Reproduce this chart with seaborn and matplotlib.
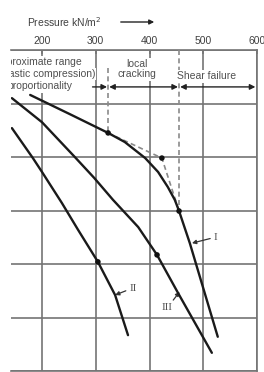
import matplotlib
matplotlib.use("Agg")
import matplotlib.pyplot as plt
import seaborn as sns

# pressure (kN/m2) against settlement (grid units, measured downwards)
p_I = [178, 252, 323, 354, 392, 416, 434, 447, 455, 475, 527]
s_I = [0.84, 1.20, 1.55, 1.72, 2.02, 2.28, 2.56, 2.80, 3.01, 3.61, 5.36]
p_II = [144, 183, 200, 237, 267, 304, 336, 360]
s_II = [1.46, 2.02, 2.28, 2.86, 3.36, 3.96, 4.58, 5.33]
p_III = [144, 200, 261, 297, 332, 379, 414, 453, 516]
s_III = [0.90, 1.35, 2.00, 2.39, 2.80, 3.31, 3.83, 4.54, 5.66]

# marked points and the dashed construction line
dot_p = [323, 455, 304, 414, 423]
dot_s = [1.55, 3.01, 3.96, 3.83, 2.02]
dash_p = [323, 423, 455]
dash_s = [1.55, 2.02, 3.01]

# zone limits (pressure)
lim_elastic = 323
lim_crack = 455

xticks = [200, 300, 400, 500, 600]

sns.set_style("white")
plt.rcParams["font.family"] = ["Liberation Sans", "DejaVu Sans"]

grid_c = "#747474"
txt_c = "#505050"

fig = plt.figure(figsize=(2.64, 3.72), dpi=100)
ax = fig.add_axes([11 / 264, 1 / 372, 246 / 264, 321 / 372])
ax.set_xlim(142.3, 600)
ax.set_ylim(6, 0)

ax.set_xticks(xticks)
ax.set_yticks(range(0, 7))
ax.xaxis.tick_top()
ax.tick_params(axis="x", top=True, direction="in", length=3, width=1.1,
               color=grid_c, labelsize=7.5, labelcolor="#404040", pad=3)
ax.tick_params(axis="y", left=False, labelleft=False)
ax.grid(True, color=grid_c, linewidth=1.2)
ax.set_axisbelow(True)
for side in ["top", "right", "bottom"]:
    ax.spines[side].set_color(grid_c)
    ax.spines[side].set_linewidth(1.2)
ax.spines["left"].set_visible(False)

# curves
for p, s in [(p_I, s_I), (p_II, s_II), (p_III, s_III)]:
    sns.lineplot(x=p, y=s, sort=False, color="#1a1a1a", linewidth=1.7, ax=ax, zorder=4)

sns.lineplot(x=dash_p, y=dash_s, sort=False, color="#8a8a8a", linewidth=1.2,
             linestyle=(0, (3, 2)), ax=ax, zorder=3)
ax.plot([lim_elastic, lim_elastic], [0.34, 1.55], color="#8a8a8a", lw=1.2, ls=(0, (3, 2)), zorder=3)
ax.plot([lim_crack, lim_crack], [0.0, 3.01], color="#8a8a8a", lw=1.2, ls=(0, (3, 2)), zorder=3)
sns.scatterplot(x=dot_p, y=dot_s, color="#111111", s=16, ax=ax, zorder=5, edgecolor="none")

# zone arrows
y_arr = 0.69
ap = dict(color="#222222", lw=1.0, shrinkA=0, shrinkB=0, mutation_scale=8)
ax.annotate("", xy=(lim_elastic - 2, y_arr), xytext=(294, y_arr),
            arrowprops=dict(arrowstyle="-|>", **ap))
ax.annotate("", xy=(lim_crack - 2, y_arr), xytext=(lim_elastic + 2, y_arr),
            arrowprops=dict(arrowstyle="<|-|>", **ap))
ax.annotate("", xy=(597, y_arr), xytext=(lim_crack + 2, y_arr),
            arrowprops=dict(arrowstyle="<|-|>", **ap))

box = dict(facecolor="white", edgecolor="none", pad=1.0)
ax.text(377, 0.36, "local\ncracking", ha="center", va="center", fontsize=7.5,
        color=txt_c, linespacing=1.05, bbox=box, zorder=3)
ax.text(507, 0.49, "Shear failure", ha="center", va="center", fontsize=7.5,
        color=txt_c, bbox=box, zorder=3)

# left zone text, cut off at the left edge of the plot
ax.text(274.4, 0.224, "Approximate range", ha="right", va="center",
        fontsize=7.5, color=txt_c, bbox=box, clip_on=True, zorder=3)
ax.text(298.6, 0.449, "(elastic compression)", ha="right", va="center",
        fontsize=7.5, color=txt_c, bbox=box, clip_on=True, zorder=3)
ax.text(255.8, 0.682, "proportionality", ha="right", va="center",
        fontsize=7.5, color=txt_c, bbox=box, clip_on=True, zorder=3)

# curve labels
serif = ["Liberation Serif", "DejaVu Serif"]
lp = dict(arrowstyle="-|>", color="#333333", lw=0.9, mutation_scale=6, shrinkA=0, shrinkB=0)
ax.annotate("I", xy=(479, 3.61), xytext=(519, 3.50), ha="left", va="center",
            fontsize=8, color=txt_c, family=serif, arrowprops=lp)
ax.annotate("II", xy=(336, 4.58), xytext=(362, 4.45), ha="left", va="center",
            fontsize=8, color=txt_c, family=serif, arrowprops=lp)
ax.annotate("III", xy=(456, 4.52), xytext=(433, 4.82), ha="center", va="center",
            fontsize=8, color=txt_c, family=serif, arrowprops=lp)

# axis title with arrow
fig.text(27 / 264, 1 - 22 / 372, "Pressure kN/m$^2$", ha="left", va="center",
         fontsize=7.5, color="#404040")
fig.patches.append(matplotlib.patches.FancyArrowPatch(
    (118 / 264, 1 - 22 / 372), (157 / 264, 1 - 22 / 372), transform=fig.transFigure,
    arrowstyle="-|>", mutation_scale=7, color="#222222", lw=1.0))

fig.savefig("out.png", dpi=100)
